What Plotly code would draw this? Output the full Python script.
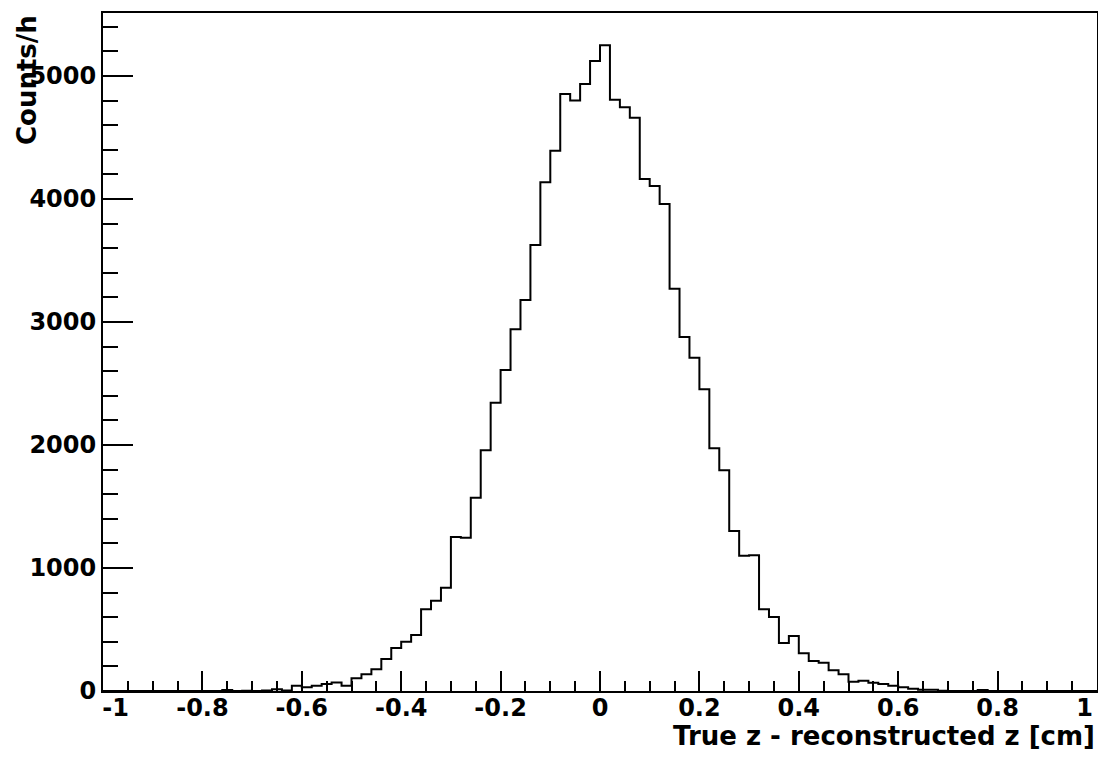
import plotly.graph_objects as go

# histogram: 100 bins of width 0.02 between -1 and 1
bin_lo = -1.0
bin_width = 0.02
counts = [
    0, 0, 0, 0, 0, 0, 0, 0, 0, 0,
    0, 0, 8, 0, 2, 0, 4, 15, 5, 43,
    30, 43, 57, 70, 43, 103, 136, 176, 260, 350,
    401, 455, 664, 734, 840, 1252, 1246, 1572, 1957, 2344,
    2610, 2941, 3179, 3626, 4136, 4393, 4854, 4802, 4935, 5122,
    5250, 4808, 4746, 4661, 4163, 4106, 3959, 3270, 2878, 2710,
    2453, 1973, 1794, 1301, 1100, 1103, 664, 602, 390, 448,
    306, 244, 230, 168, 136, 76, 84, 67, 57, 43,
    30, 19, 10, 10, 3, 0, 0, 0, 8, 0,
    0, 0, 0, 0, 0, 0, 0, 0, 0, 0,
]
x_ticks = [-1, -0.8, -0.6, -0.4, -0.2, 0, 0.2, 0.4, 0.6, 0.8, 1]
# padding on the end labels keeps them off the frame corners, like ROOT does
x_ticktext = ["\u00a0\u00a0\u00a0-1", "-0.8", "-0.6", "-0.4", "-0.2", "0",
              "0.2", "0.4", "0.6", "0.8", "1\u00a0\u00a0\u00a0"]
y_ticks = [0, 1000, 2000, 3000, 4000, 5000]

edges = [bin_lo + bin_width * i for i in range(len(counts) + 1)]
step_y = counts + [counts[-1]]

font = dict(family="DejaVu Sans, sans-serif", size=24, color="black", weight="bold")

fig = go.Figure()
fig.add_trace(
    go.Scatter(
        x=edges,
        y=step_y,
        mode="lines",
        line=dict(color="black", width=2, shape="hv"),
        showlegend=False,
    )
)

fig.update_xaxes(
    range=[-1, 1],
    tickvals=x_ticks,
    ticktext=x_ticktext,
    ticks="inside",
    ticklen=20,
    tickwidth=2,
    tickcolor="black",
    minor=dict(ticks="inside", ticklen=10, tickwidth=2, tickcolor="black", dtick=0.05),
    showline=True,
    linecolor="black",
    linewidth=2,
    mirror=True,
    showgrid=False,
    zeroline=False,
    tickfont=font,
    ticklabeloverflow="allow",
    ticklabelstandoff=-6,
    automargin=False,
)
fig.update_yaxes(
    range=[0, max(counts) * 1.05],
    tickvals=y_ticks,
    ticks="inside",
    ticklen=30,
    tickwidth=2,
    tickcolor="black",
    minor=dict(ticks="inside", ticklen=15, tickwidth=2, tickcolor="black", dtick=200),
    showline=True,
    linecolor="black",
    linewidth=2,
    mirror=True,
    showgrid=False,
    zeroline=False,
    tickfont=font,
    ticklabeloverflow="allow",
    automargin=False,
)

fig.add_annotation(
    text="True z - reconstructed z [cm]",
    xref="paper", yref="paper", x=1, y=-0.066,
    xanchor="right", yanchor="middle",
    showarrow=False, font=dict(font, size=26),
)
fig.add_annotation(
    text="Counts/h",
    xref="paper", yref="paper", x=-0.0764, y=1,
    xanchor="center", yanchor="top", textangle=-90,
    showarrow=False, font=dict(font, size=26),
)

fig.update_layout(
    width=1090,
    height=743,
    paper_bgcolor="white",
    plot_bgcolor="white",
    margin=dict(l=95, r=1, t=5, b=60),
)

fig.write_html("out.html")
